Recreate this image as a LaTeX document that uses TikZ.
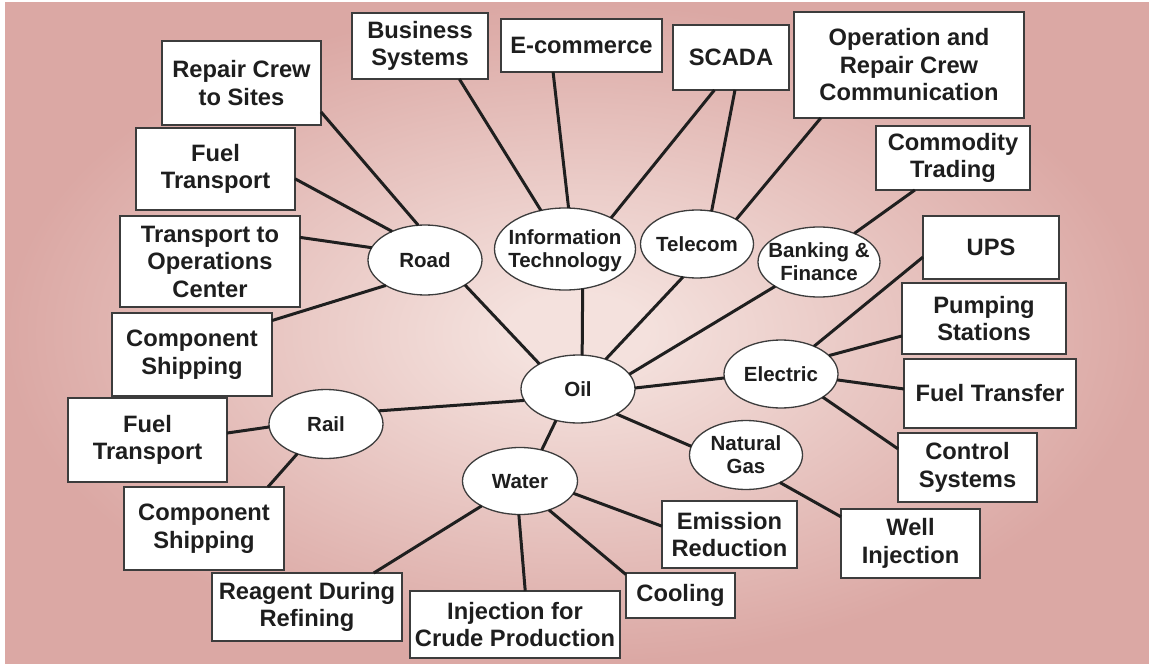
\documentclass[tikz,border=0pt]{standalone}
\usepackage{fontspec}
\setmainfont{Liberation Sans}
\usetikzlibrary{shapes.geometric}
\definecolor{bgin}{RGB}{244,225,221}
\definecolor{bgout}{RGB}{219,168,164}
\definecolor{ink}{RGB}{30,30,30}
\definecolor{rim}{RGB}{60,60,60}
\pgfdeclareradialshading{bgshade}{\pgfpoint{0bp}{0bp}}{color(0bp)=(bgin); color(3bp)=(bgin); color(25bp)=(bgout); color(50bp)=(bgout)}
\newcommand{\elltxt}[1]{\makebox[0pt]{\raisebox{-0.39em}[0pt][0pt]{\begin{tabular}{@{}c@{}}#1\end{tabular}}}}
\tikzset{
  box/.style={draw=rim, line width=1.3pt, fill=white, text=ink, inner sep=1pt, outer sep=0pt, align=center, font=\fontsize{23.7}{27.5}\selectfont\bfseries},
  hub/.style={ellipse, draw=rim, line width=1.3pt, fill=white, text=ink, inner sep=0pt, outer sep=0pt, font=\fontsize{20.5}{23}\selectfont\bfseries},
  sz/.style 2 args={minimum width=#1pt, minimum height=#2pt},
  link/.style={line width=3pt, draw=black!88}}
\begin{document}
\begin{tikzpicture}[x=1pt,y=-1pt]
\useasboundingbox (0,0) rectangle (1149,666);
\fill[white] (0,0) rectangle (1149,666);
\shade[shading=bgshade] (5,3) rectangle (1149,663);

% hubs
\node[hub, sz={114}{68}] (oil) at (578,389) {\elltxt{Oil}};
\node[hub, sz={114}{70}] (road) at (425,260) {\elltxt{Road}};
\node[hub, sz={141}{82}] (it) at (565,249) {\elltxt{Information\\Technology}};
\node[hub, sz={113}{68}] (tel) at (697,244) {\elltxt{Telecom}};
\node[hub, sz={122}{70}] (bank) at (819,262) {\elltxt{Banking \&\\Finance}};
\node[hub, sz={114}{68}] (elec) at (781,374) {\elltxt{Electric}};
\node[hub, sz={113}{69}] (gas) at (746,455) {\elltxt{Natural\\Gas}};
\node[hub, sz={114}{69}] (rail) at (326,424) {\elltxt{Rail}};
\node[hub, sz={115}{67}] (water) at (520,481) {\elltxt{Water}};

% boxes
\node[box, sz={159}{84}] (repair) at (241.5,83) {Repair Crew\\to Sites};
\node[box, sz={159}{82}] (fuelA) at (215.5,169) {Fuel\\Transport};
\node[box, sz={180}{91}] (tops) at (210,261.5) {Transport to\\Operations\\Center};
\node[box, sz={160}{83}] (compA) at (192,354.5) {Component\\Shipping};
\node[box, sz={159}{84}] (fuelB) at (147.5,440) {Fuel\\Transport};
\node[box, sz={160}{83}] (compB) at (204,528.5) {Component\\Shipping};
\node[box, sz={190}{68}] (reagent) at (307,607) {Reagent During\\Refining};
\node[box, sz={210}{67}] (inject) at (515,624.5) {Injection for\\Crude Production};
\node[box, sz={109}{45}] (cool) at (680.5,595.5) {Cooling};
\node[box, sz={135}{67}] (emis) at (729.5,534.5) {Emission\\Reduction};
\node[box, sz={139}{69}] (well) at (910.5,543.5) {Well\\Injection};
\node[box, sz={139}{69}] (ctrl) at (967.5,467.5) {Control\\Systems};
\node[box, sz={172}{69}] (ftr) at (990,393.5) {Fuel Transfer};
\node[box, sz={164}{71}] (pump) at (984,318.5) {Pumping\\Stations};
\node[box, sz={136}{63}] (ups) at (991,247.5) {UPS};
\node[box, sz={154}{64}] (comm) at (953,158) {Commodity\\Trading};
\node[box, sz={230}{106}] (opc) at (909,65) {Operation and\\Repair Crew\\Communication};
\node[box, sz={116}{65}] (scada) at (731,57.5) {SCADA};
\node[box, sz={161}{53}] (ecom) at (581.5,45.5) {E-commerce};
\node[box, sz={136}{66}] (bus) at (420,46) {Business\\Systems};

% connectors
\draw[link] (repair.-20.7) -- (road.101.3);
\draw[link] (fuelA.-7.9) -- (road.139.8);
\draw[link] (tops.15.8) -- (road.167.7);
\draw[link] (compA.23.9) -- (road.213.3);
\draw[link] (road.-32) -- (oil.147.6);

\draw[link] (bus.-40.4) -- (it.122.7);
\draw[link] (ecom.223) -- (it.85.8);
\draw[link] (scada.243.8) -- (it.34.2);
\draw[link] (it.-66.9) -- (oil.83.3);

\draw[link] (scada.-83) -- (tel.66.2);
\draw[link] (opc.211.6) -- (tel.32.4);
\draw[link] (tel.-113.8) -- (oil.47.8);

\draw[link] (comm.220.1) -- (bank.39.8);
\draw[link] (bank.209) -- (oil.16.5);

\draw[link] (elec.184) -- (oil.1);
\draw[link] (ups.188.8) -- (elec.40.5);
\draw[link] (pump.192.7) -- (elec.21.4);
\draw[link] (ftr.177.7) -- (elec.-6);
\draw[link] (ctrl.165.9) -- (elec.-29.7);

\draw[link] (oil.-33.7) -- (gas.171.9);
\draw[link] (well.159.1) -- (gas.-39.5);

\draw[link] (rail.14.7) -- (oil.192.3);
\draw[link] (fuelB.5.7) -- (rail.183);
\draw[link] (compB.33.4) -- (rail.226.9);

\draw[link] (oil.235.1) -- (water.55.1);
\draw[link] (reagent.27.3) -- (water.213);
\draw[link] (inject.73.4) -- (water.268.3);
\draw[link] (cool.159) -- (water.-45.9);
\draw[link] (emis.173.7) -- (water.-13.3);
\end{tikzpicture}
\end{document}
